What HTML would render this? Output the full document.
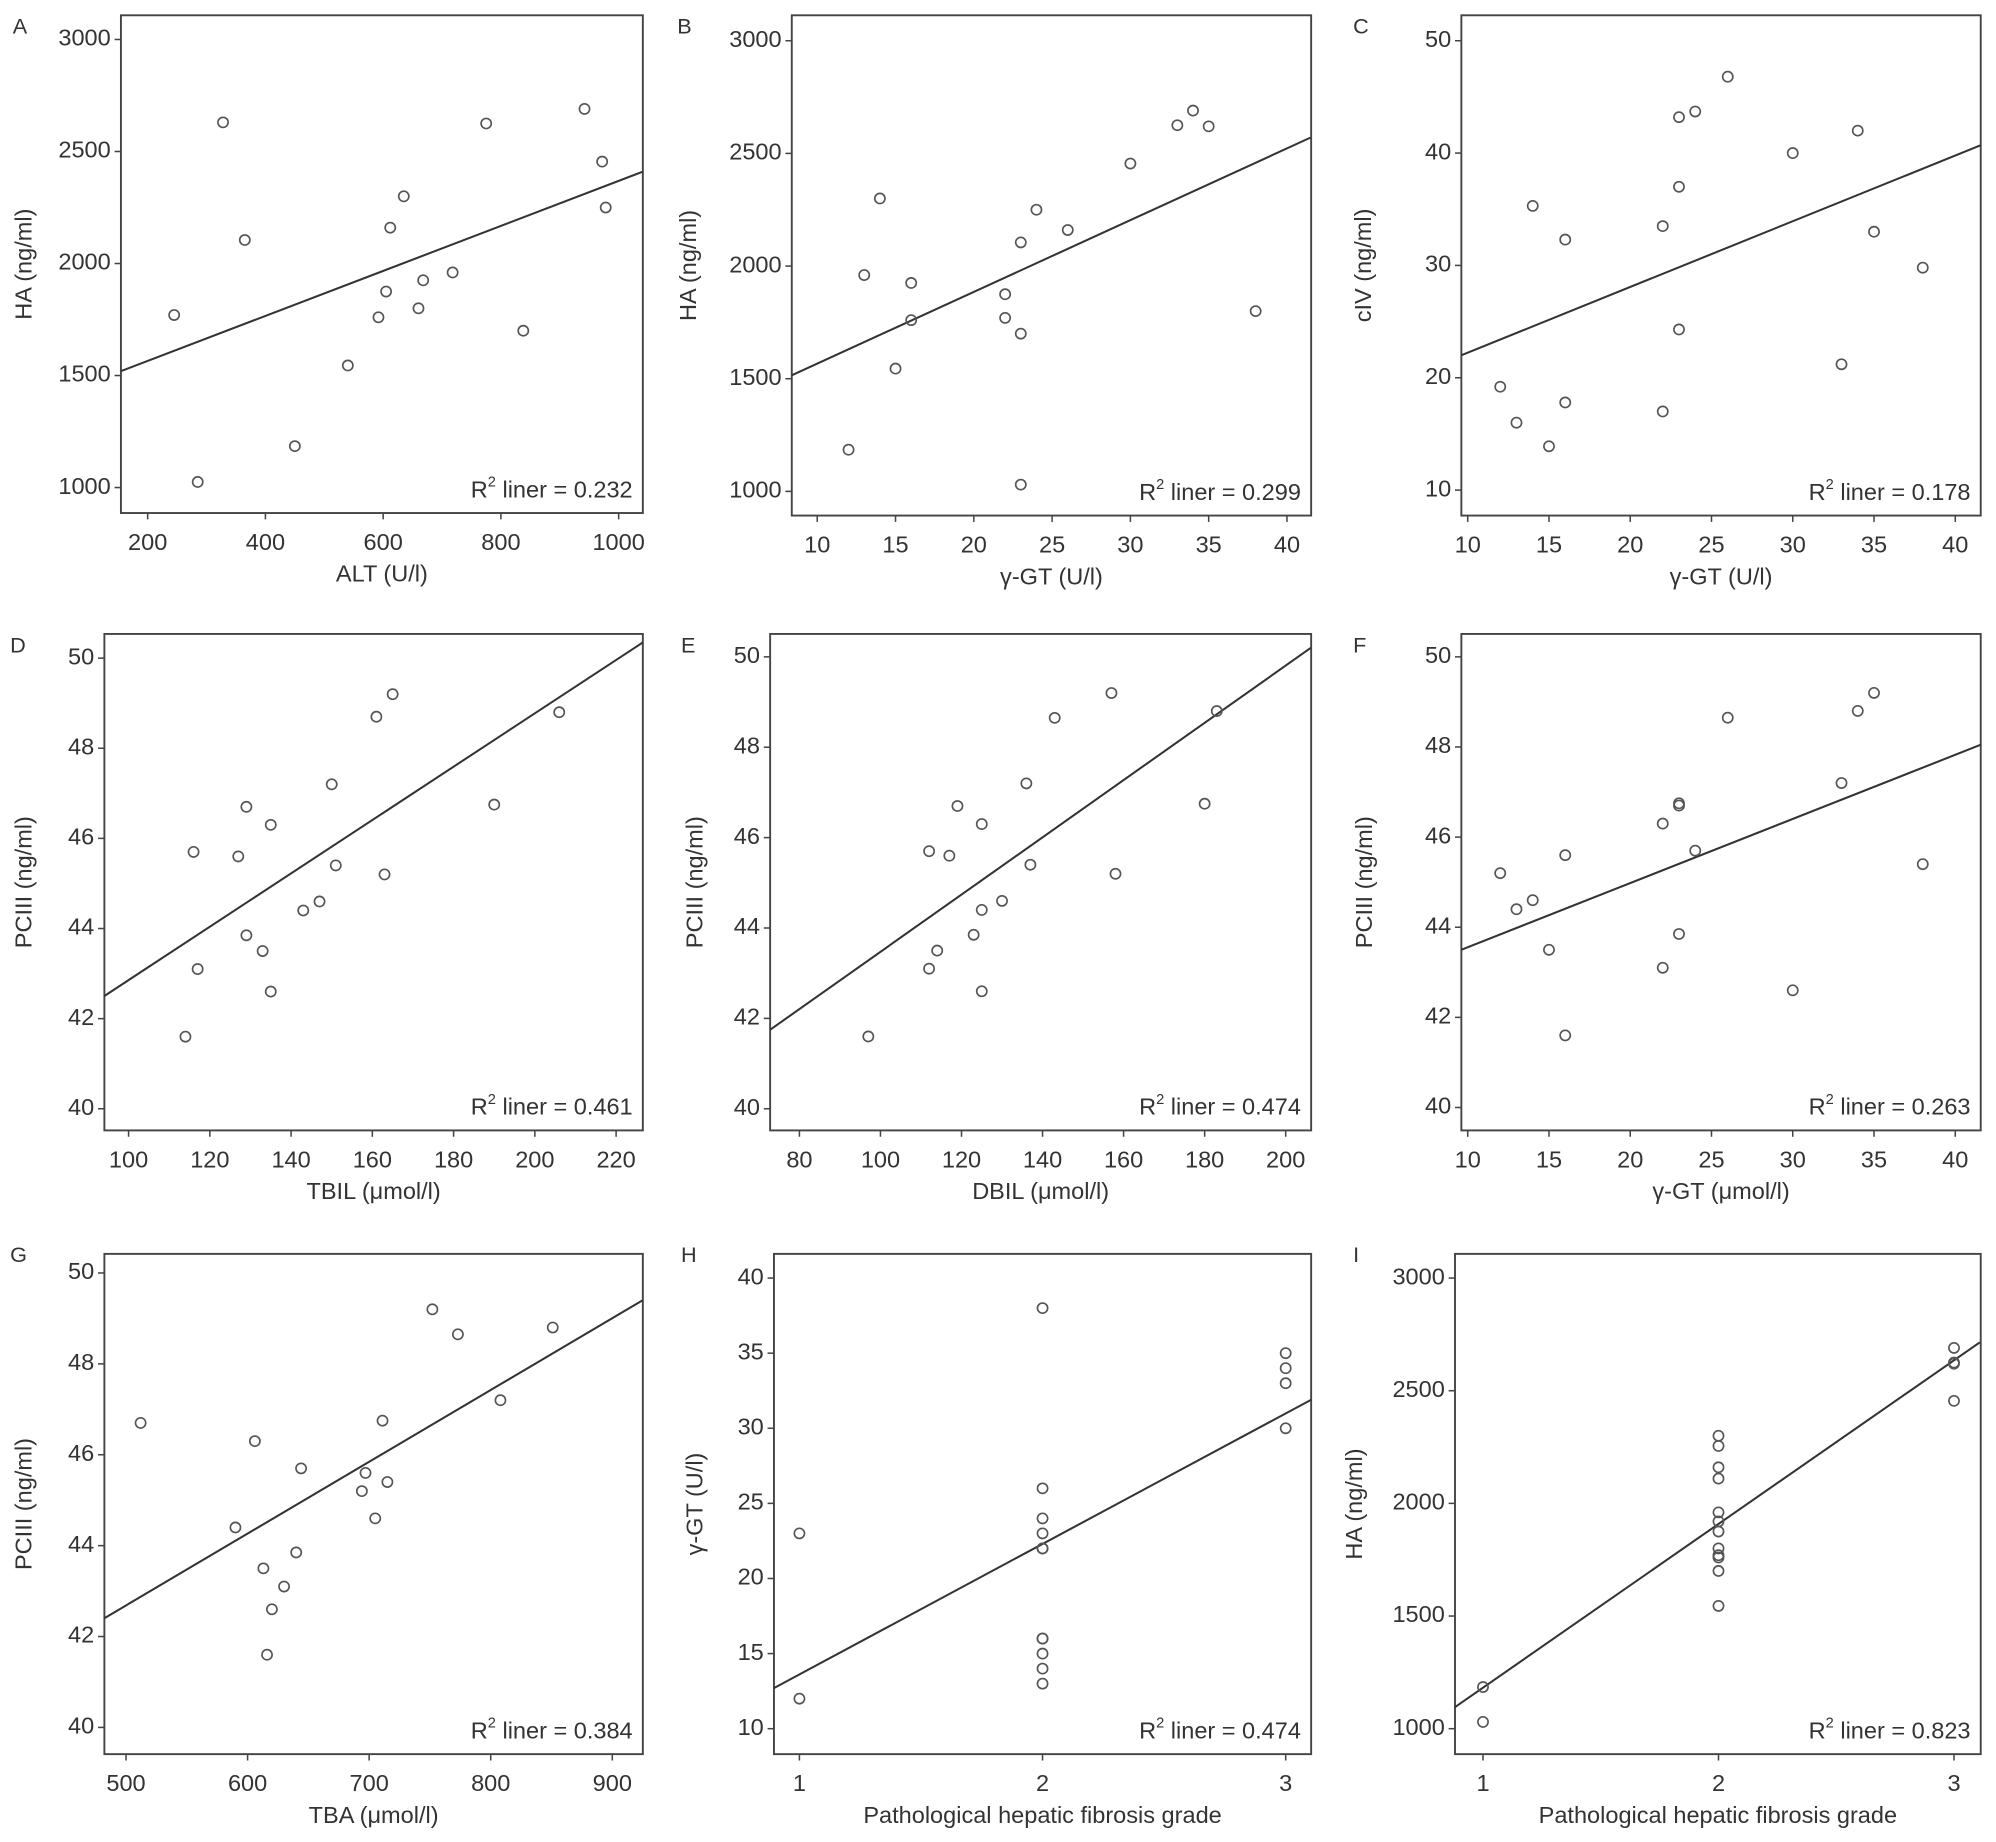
<!DOCTYPE html>
<html><head><meta charset="utf-8"><style>
html,body{margin:0;padding:0;background:#fff}
svg{display:block}
text{font-family:"Liberation Sans",Arial,sans-serif;fill:#333}
</style></head><body>
<svg id="fig" width="1996" height="1842" viewBox="0 0 1568 1447" xmlns="http://www.w3.org/2000/svg"></svg>
<script>
// ---- data arrays ----
const ptsA = [[245,1770],[285,1025],[328,2630],[365,2105],[450,1185],[540,1545],[592,1760],[605,1875],[612,2160],[635,2300],[660,1800],[668,1925],[718,1960],[775,2625],[838,1700],[942,2690],[972,2455],[978,2250]];
const ptsB = [[12,1185],[13,1960],[14,2300],[15,1545],[16,1925],[16,1760],[22,1875],[22,1770],[23,2105],[23,1700],[23,1030],[24,2250],[26,2160],[30,2455],[33,2625],[34,2690],[35,2620],[38,1800]];
const ptsC = [[12,19.2],[13,16],[14,35.3],[15,13.9],[16,32.3],[16,17.8],[22,33.5],[22,17],[23,43.2],[23,37],[23,24.3],[24,43.7],[26,46.8],[30,40],[33,21.2],[34,42],[35,33],[38,29.8]];
const ptsD = [[114,41.6],[116,45.7],[117,43.1],[127,45.6],[129,43.85],[129,46.7],[133,43.5],[135,46.3],[135,42.6],[143,44.4],[147,44.6],[150,47.2],[151,45.4],[161,48.7],[163,45.2],[165,49.2],[190,46.75],[206,48.8]];
const ptsE = [[97,41.6],[112,43.1],[112,45.7],[114,43.5],[117,45.6],[119,46.7],[123,43.85],[125,46.3],[125,44.4],[125,42.6],[130,44.6],[136,47.2],[137,45.4],[143,48.65],[157,49.2],[158,45.2],[180,46.75],[183,48.8]];
const ptsF = [[12,45.2],[13,44.4],[14,44.6],[15,43.5],[16,45.6],[16,41.6],[22,46.3],[22,43.1],[23,46.75],[23,46.7],[23,43.85],[24,45.7],[26,48.65],[30,42.6],[33,47.2],[34,48.8],[35,49.2],[38,45.4]];
const ptsG = [[512,46.7],[590,44.4],[606,46.3],[613,43.5],[616,41.6],[620,42.6],[630,43.1],[640,43.85],[644,45.7],[694,45.2],[697,45.6],[705,44.6],[711,46.75],[715,45.4],[752,49.2],[773,48.65],[808,47.2],[851,48.8]];
const ptsH = [[1,23],[1,12],[2,38],[2,26],[2,24],[2,23],[2,22],[2,22],[2,16],[2,16],[2,15],[2,14],[2,13],[3,35],[3,34],[3,33],[3,30]];
const ptsI = [[1,1185],[1,1030],[2,2300],[2,2255],[2,2160],[2,2110],[2,1960],[2,1920],[2,1875],[2,1800],[2,1770],[2,1760],[2,1700],[2,1545],[3,2690],[3,2625],[3,2620],[3,2455]];
// fit lines: [x0,y0,x1,y1] in data units
const lineA=[155,1520,1041,2410], lineB=[8.37,1515,41.5,2570], lineC=[9.6,22,41.57,40.7];
const lineD=[94,42.5,226.6,50.35], lineE=[72.8,41.75,206.2,50.2], lineF=[9.6,43.5,41.57,48.05];
const lineG=[482,42.4,925,49.4], lineH=[0.895,12.7,3.105,31.9], lineI=[0.88,1095,3.11,2715];
const r2Values=["0.232","0.299","0.178","0.461","0.474","0.263","0.384","0.474","0.823"];
const xTicksA=[200,400,600,800,1000], yTicksHA=[1000,1500,2000,2500,3000];
const xTicksGT=[10,15,20,25,30,35,40], yTicksC=[10,20,30,40,50];
const yTicksPC=[40,42,44,46,48,50];
const xTicksD=[100,120,140,160,180,200,220], xTicksE=[80,100,120,140,160,180,200];
const xTicksG=[500,600,700,800,900], xTicksGrade=[1,2,3], yTicksH=[10,15,20,25,30,35,40];

const panels=[
 {id:'A',pts:ptsA,line:lineA,box:[95,12,505,403],xr:[200,116,1000,486],yr:[3000,31,1000,383],xt:xTicksA,yt:yTicksHA,xl:'ALT (U/l)',yl:'HA (ng/ml)',lp:[10,22],ylx:20},
 {id:'B',pts:ptsB,line:lineB,box:[622,12,1030,405],xr:[10,642,40,1011],yr:[3000,32,1000,386],xt:xTicksGT,yt:yTicksHA,xl:'γ-GT (U/l)',yl:'HA (ng/ml)',lp:[532,22],ylx:542},
 {id:'C',pts:ptsC,line:lineC,box:[1148,12,1556,405],xr:[10,1153,40,1536],yr:[50,32,10,385],xt:xTicksGT,yt:yTicksC,xl:'γ-GT (U/l)',yl:'cIV (ng/ml)',lp:[1063,22],ylx:1072},
 {id:'D',pts:ptsD,line:lineD,box:[82,498,505,888],xr:[100,101,220,484],yr:[50,517,40,871],xt:xTicksD,yt:yTicksPC,xl:'TBIL (μmol/l)',yl:'PCIII (ng/ml)',lp:[8,508],ylx:20},
 {id:'E',pts:ptsE,line:lineE,box:[605,498,1030,888],xr:[80,628,200,1010],yr:[50,516,40,871],xt:xTicksE,yt:yTicksPC,xl:'DBIL (μmol/l)',yl:'PCIII (ng/ml)',lp:[535,508],ylx:547},
 {id:'F',pts:ptsF,line:lineF,box:[1148,498,1556,888],xr:[10,1153,40,1536],yr:[50,516,40,870],xt:xTicksGT,yt:yTicksPC,xl:'γ-GT (μmol/l)',yl:'PCIII (ng/ml)',lp:[1063,508],ylx:1073},
 {id:'G',pts:ptsG,line:lineG,box:[82,985,505,1378],xr:[500,99,900,481],yr:[50,1000,40,1357],xt:xTicksG,yt:yTicksPC,xl:'TBA (μmol/l)',yl:'PCIII (ng/ml)',lp:[8,987],ylx:20},
 {id:'H',pts:ptsH,line:lineH,box:[608,985,1030,1378],xr:[1,628,3,1010],yr:[40,1004,10,1358],xt:xTicksGrade,yt:yTicksH,xl:'Pathological hepatic fibrosis grade',yl:'γ-GT (U/l)',lp:[535,987],ylx:547},
 {id:'I',pts:ptsI,line:lineI,box:[1143,985,1556,1378],xr:[1,1165,3,1535],yr:[3000,1004,1000,1358],xt:xTicksGrade,yt:yTicksHA,xl:'Pathological hepatic fibrosis grade',yl:'HA (ng/ml)',lp:[1063,987],ylx:1065}
];
const NS='http://www.w3.org/2000/svg';
const svg=document.getElementById('fig');
function mk(tag,attrs,parent,txt){const e=document.createElementNS(NS,tag);for(const k in attrs)e.setAttribute(k,attrs[k]);if(txt!==undefined)e.textContent=txt;parent.appendChild(e);return e;}
panels.forEach((p,i)=>{
 const g=mk('g',{},svg);
 
 
 const X=v=>p.xr[1]+(v-p.xr[0])*(p.xr[3]-p.xr[1])/(p.xr[2]-p.xr[0]);
 const Y=v=>p.yr[1]+(v-p.yr[0])*(p.yr[3]-p.yr[1])/(p.yr[2]-p.yr[0]);
 const [bx0,by0,bx1,by1]=p.box;
 const box=mk('rect',{x:bx0,y:by0,width:bx1-bx0,height:by1-by0,fill:'none',stroke:'#444','stroke-width':1.5},g);
 
 
 const lab=mk('text',{x:p.lp[0],y:p.lp[1],'font-size':17,'dominant-baseline':'middle'},g,p.id);
 
 
 p.yt.forEach(v=>{const y=Y(v);mk('line',{x1:bx0-5,x2:bx0,y1:y,y2:y,stroke:'#444','stroke-width':1.2},g);
  const t=mk('text',{x:bx0-8,y:y,'font-size':18.5,'text-anchor':'end','dominant-baseline':'middle'},g,v);
  
  });
 p.xt.forEach(v=>{const x=X(v);mk('line',{x1:x,x2:x,y1:by1,y2:by1+5,stroke:'#444','stroke-width':1.2},g);
  const t=mk('text',{x:x,y:by1+29,'font-size':18.5,'text-anchor':'middle'},g,v);
  
  });
 const xl=mk('text',{x:(bx0+bx1)/2,y:by1+54,'font-size':18.5,'text-anchor':'middle'},g,p.xl);
 
 
 const yc=(by0+by1)/2;
 const yl=mk('text',{x:p.ylx,y:yc,'font-size':18.5,'text-anchor':'middle','dominant-baseline':'middle',transform:`rotate(-90 ${p.ylx} ${yc})`},g,p.yl);
 
 
 const ln=mk('line',{x1:X(p.line[0]),y1:Y(p.line[1]),x2:X(p.line[2]),y2:Y(p.line[3]),stroke:'#333','stroke-width':1.6},g);
 
 
 p.pts.forEach(d=>{const c=mk('circle',{cx:X(d[0]),cy:Y(d[1]),r:4,fill:'none',stroke:'#555','stroke-width':1.3},g);
  
  });
 const r=mk('text',{x:bx1-8,y:by1-17,'font-size':18.5,'text-anchor':'end','dominant-baseline':'middle'},g);
 
 
 mk('tspan',{},r,'R');mk('tspan',{'font-size':11.5,dy:-7},r,'2');mk('tspan',{dy:7},r,' liner = '+r2Values[i]);
});
</script>
</body></html>
